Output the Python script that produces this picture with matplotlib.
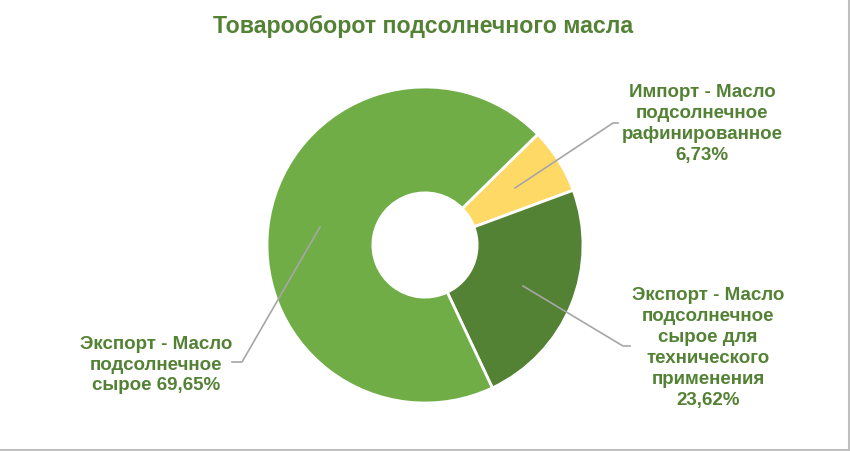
import matplotlib
matplotlib.use("Agg")
import matplotlib.pyplot as plt
from matplotlib.lines import Line2D
import numpy as np

title = "Товарооборот подсолнечного масла"
categories = [
    "Импорт - Масло\nподсолнечное\nрафинированное",
    "Экспорт - Масло\nподсолнечное\nсырое для\nтехнического\nприменения",
    "Экспорт - Масло\nподсолнечное\nсырое",
]
values = [6.73, 23.62, 69.65]
colors = ["#FFD966", "#548235", "#70AD47"]
label_texts = [
    "Импорт - Масло\nподсолнечное\nрафинированное\n6,73%",
    "Экспорт - Масло\nподсолнечное\nсырое для\nтехнического\nприменения\n23,62%",
    "Экспорт - Масло\nподсолнечное\nсырое 69,65%",
]

W, H = 850, 451
fig = plt.figure(figsize=(W / 100, H / 100), dpi=100)
fig.patch.set_facecolor("white")
plt.rcParams["font.family"] = ["Liberation Sans", "DejaVu Sans"]

text_color = "#548235"

# pie axes: center (425,245), radius 158 px
cx, cy, r = 425, 245, 158
ax = fig.add_axes([(cx - r) / W, (H - cy - r) / H, 2 * r / W, 2 * r / H])

wedges, _ = ax.pie(values, colors=colors, startangle=44.5, counterclock=False,
                   radius=1.0, wedgeprops=dict(width=0.67, edgecolor="white", linewidth=2))
ax.set_xlim(-1, 1)
ax.set_ylim(-1, 1)
ax.set_aspect("equal")
ax.axis("off")

# leader lines (pixel coordinates)
leaders = [
    [(515, 188), (613, 123), (618, 123)],
    [(523, 286), (623, 346), (630, 346)],
    [(320, 227), (242, 362), (232, 362)],
]
for pts in leaders:
    fx = [p[0] / W for p in pts]
    fy = [1 - p[1] / H for p in pts]
    fig.add_artist(Line2D(fx, fy, color="#A6A6A6", linewidth=1.2))

label_pos = [(702, 124), (708, 348), (156, 365)]
for txt, (lx, ly) in zip(label_texts, label_pos):
    fig.text(lx / W, 1 - ly / H, txt, ha="center", va="center", fontsize=13.5,
             fontweight="bold", color=text_color, linespacing=1.3)

fig.text(423 / W, 1 - 27 / H, title, ha="center", va="center", fontsize=16.7,
         fontweight="bold", color=text_color)

# thin gray frame on bottom and right
fig.add_artist(Line2D([0, 1], [1.5 / H, 1.5 / H], color="#BFBFBF", linewidth=1.5))
fig.add_artist(Line2D([1 - 1.5 / W, 1 - 1.5 / W], [0, 1], color="#BFBFBF", linewidth=1.5))

fig.savefig("out.png", dpi=100, facecolor="white")
